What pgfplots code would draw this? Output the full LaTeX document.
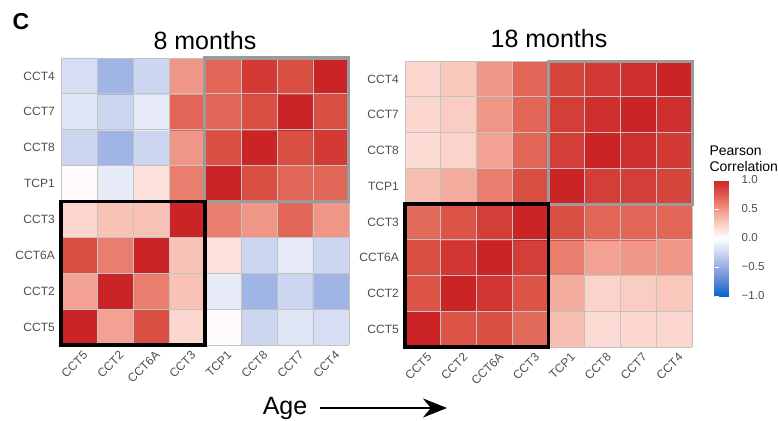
\documentclass[border=0pt]{standalone}
\usepackage{pgfplots}
\pgfplotsset{compat=1.18}
\usepackage{fontspec}
\setmainfont{Liberation Sans}
\usetikzlibrary{arrows.meta,calc}
\definecolor{gridgray}{RGB}{195,195,195}
\definecolor{boxgray}{RGB}{155,155,155}
\definecolor{tickgray}{RGB}{77,77,77}
\pgfplotsset{
  colormap={rdbu}{rgb255=(5,100,200) rgb255=(90,135,212) rgb255=(150,172,228) rgb255=(205,214,240) rgb255=(255,255,255) rgb255=(250,205,195) rgb255=(240,150,135) rgb255=(222,90,75) rgb255=(203,36,38)},
  hm/.style={
    scale only axis, axis on top,
    enlargelimits=false, xmin=-0.5, xmax=7.5, ymin=-0.5, ymax=7.5,
    xtick={0,...,7}, ytick={0,...,7},
    xticklabels={CCT5,CCT2,CCT6A,CCT3,TCP1,CCT8,CCT7,CCT4},
    yticklabels={CCT5,CCT2,CCT6A,CCT3,TCP1,CCT8,CCT7,CCT4},
    minor xtick={-0.5,0.5,...,7.5}, minor ytick={-0.5,0.5,...,7.5},
    grid=minor, minor grid style={gridgray, line width=0.9pt},
    major tick length=0pt, minor tick length=0pt,
    axis line style={draw=none},
    colormap name=rdbu, point meta min=-1, point meta max=1,
    tick label style={font=\fontsize{12}{14}\selectfont, text=tickgray},
    xticklabel style={rotate=45, anchor=north east, inner sep=1pt, yshift=-5pt},
    yticklabel style={anchor=east, inner sep=0pt, xshift=-6pt},
  }
}
\begin{document}
\begin{tikzpicture}
\node[anchor=base west, font=\bfseries\fontsize{23}{26}\selectfont] at (9pt,-30pt) {C};
\node[anchor=base, font=\fontsize{25}{30}\selectfont] at (205pt,-49pt) {8 months};
\node[anchor=base, font=\fontsize{25}{30}\selectfont] at (549pt,-48pt) {18 months};

\begin{axis}[hm, name=L, at={(61pt,-58pt)}, anchor=north west, width=288pt, height=287pt]
\addplot[matrix plot*, mesh/cols=8, point meta=explicit] table[meta=c] {
x y c
0 0 1.0
1 0 0.45
2 0 0.8
3 0 0.2
4 0 0.02
5 0 -0.25
6 0 -0.15
7 0 -0.2
0 1 0.45
1 1 1.0
2 1 0.6
3 1 0.3
4 1 -0.12
5 1 -0.45
6 1 -0.25
7 1 -0.45
0 2 0.8
1 2 0.6
2 2 1.0
3 2 0.3
4 2 0.15
5 2 -0.25
6 2 -0.12
7 2 -0.25
0 3 0.2
1 3 0.3
2 3 0.3
3 3 1.0
4 3 0.6
5 3 0.5
6 3 0.7
7 3 0.5
0 4 0.02
1 4 -0.12
2 4 0.15
3 4 0.6
4 4 1.0
5 4 0.8
6 4 0.7
7 4 0.7
0 5 -0.25
1 5 -0.45
2 5 -0.25
3 5 0.5
4 5 0.8
5 5 1.0
6 5 0.8
7 5 0.9
0 6 -0.15
1 6 -0.25
2 6 -0.12
3 6 0.7
4 6 0.7
5 6 0.8
6 6 1.0
7 6 0.8
0 7 -0.2
1 7 -0.45
2 7 -0.25
3 7 0.5
4 7 0.7
5 7 0.9
6 7 0.8
7 7 1.0
};
\end{axis}

\begin{axis}[hm, name=R, at={(405pt,-61pt)}, anchor=north west, width=287pt, height=286pt,
  colorbar,
  colorbar style={
    at={(parent axis.north east)}, anchor=north west, xshift=14pt, yshift=-119pt,
    scale only axis, width=24pt, height=116pt,
    axis line style={draw=none},
    ytick={-1,-0.5,0,0.5,1},
    yticklabels={−1.0,−0.5,0.0,0.5,1.0},
    yticklabel pos=right,
    major tick length=4pt, tick align=inside,
    ytick style={draw=white, line width=0.8pt},
    tick label style={font=\fontsize{11.5}{13}\selectfont, text=tickgray},
    yticklabel style={anchor=west, inner sep=0pt, xshift=3pt},
  }]
\addplot[matrix plot*, mesh/cols=8, point meta=explicit] table[meta=c] {
x y c
0 0 1.0
1 0 0.78
2 0 0.8
3 0 0.68
4 0 0.32
5 0 0.18
6 0 0.2
7 0 0.2
0 1 0.78
1 1 1.0
2 1 0.92
3 1 0.78
4 1 0.4
5 1 0.22
6 1 0.25
7 1 0.28
0 2 0.8
1 2 0.92
2 2 1.0
3 2 0.88
4 2 0.6
5 2 0.45
6 2 0.5
7 2 0.5
0 3 0.68
1 3 0.78
2 3 0.88
3 3 1.0
4 3 0.8
5 3 0.7
6 3 0.7
7 3 0.7
0 4 0.32
1 4 0.4
2 4 0.6
3 4 0.8
4 4 1.0
5 4 0.88
6 4 0.88
7 4 0.85
0 5 0.18
1 5 0.22
2 5 0.45
3 5 0.7
4 5 0.88
5 5 1.0
6 5 0.95
7 5 0.9
0 6 0.2
1 6 0.25
2 6 0.5
3 6 0.7
4 6 0.88
5 6 0.95
6 6 1.0
7 6 0.95
0 7 0.2
1 7 0.28
2 7 0.5
3 7 0.7
4 7 0.85
5 7 0.9
6 7 0.95
7 7 1.0
};
\end{axis}

\foreach \ax in {L,R} {
  \draw[boxgray, line width=3pt] ($(\ax.south west)!0.5!(\ax.north east)$) rectangle (\ax.north east);
  \draw[black, line width=3.2pt] (\ax.south west) rectangle ($(\ax.south west)!0.5!(\ax.north east)$);
}

\node[anchor=base west, font=\fontsize{14}{16}\selectfont] at (706pt,-155pt) {Pearson};
\node[anchor=base west, font=\fontsize{14}{16}\selectfont] at (706pt,-171pt) {Correlation};
\node[anchor=base, font=\fontsize{25}{30}\selectfont] at (285pt,-414pt) {Age};
\draw[line width=2.5pt, -{Stealth[length=24pt, width=19pt]}] (320pt,-408pt) -- (447pt,-408pt);
\pgfresetboundingbox
\path[use as bounding box] (0,0) rectangle (778pt,-420pt);
\end{tikzpicture}
\end{document}
